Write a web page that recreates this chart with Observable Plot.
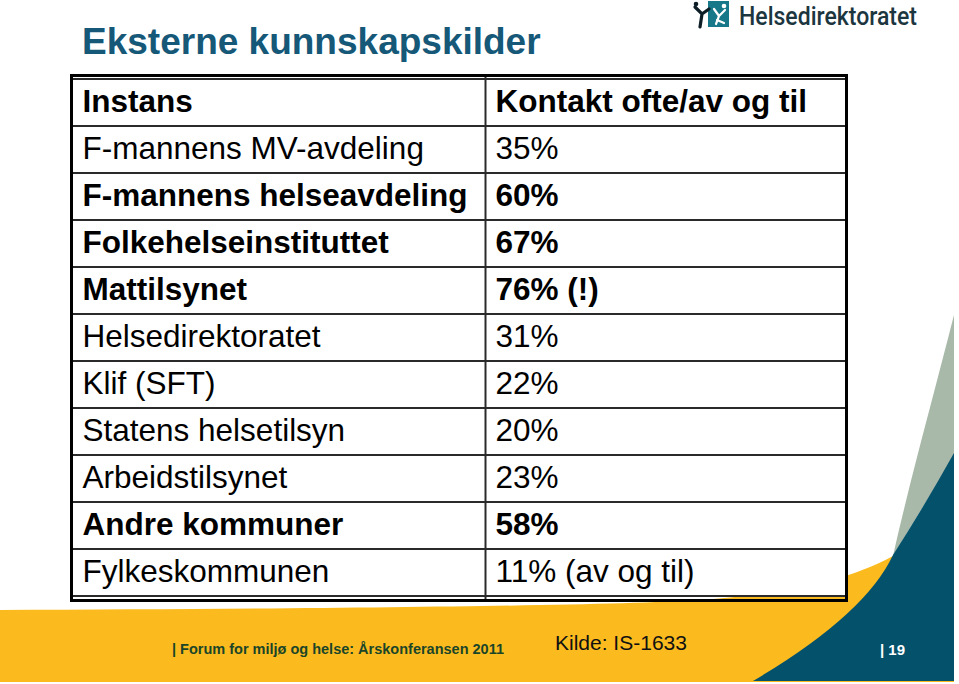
<!DOCTYPE html>
<html>
<head>
<meta charset="utf-8">
<script src="https://cdn.jsdelivr.net/npm/d3@7"></script>
<script src="https://cdn.jsdelivr.net/npm/@observablehq/plot@0.6"></script>
<style>
  html, body { margin: 0; padding: 0; background: white; }
  #slide { position: relative; width: 959px; height: 684px; overflow: hidden; font-family: "Liberation Sans", Arial, sans-serif; }
  #deco { position: absolute; left: 0; top: 0; }
  #chart { position: absolute; left: 0; top: 0; }
  #title { position: absolute; left: 82px; top: 20px; margin: 0; font-size: 37px; font-weight: bold; color: #155878; line-height: 44px; }
</style>
</head>
<body>
<div id="slide">
  <svg id="deco" width="959" height="684" xmlns="http://www.w3.org/2000/svg">
    <path d="M0,610 C300,609 600,606 700,600 C770,595 840,585 893,556 L954,556 L954,682 L0,682 Z" fill="#fbbb1e"/>
    <path d="M954,315 C935,390 910,480 893,556 L954,456 Z" fill="#a9b9a9"/>
    <path d="M954,453 Q925,505 893,555 Q865,615 753,681 L954,681 Z" fill="#03516b"/>
    <text x="172" y="654" font-family="Liberation Sans, Arial, sans-serif" font-size="14.5" font-weight="bold" fill="#1a4528">| Forum for miljø og helse: Årskonferansen 2011</text>
    <text x="555" y="650" font-family="Liberation Sans, Arial, sans-serif" font-size="21" fill="#111">Kilde: IS-1633</text>
    <text x="880" y="655" font-family="Liberation Sans, Arial, sans-serif" font-size="15" font-weight="bold" fill="white">| 19</text>
    <!-- logo -->
    <rect x="708" y="1" width="21" height="26" fill="#17788a"/>
    <path d="M714,9 L719,16 L725,10 M719,16 L716,24 M717,20 L724,23" stroke="white" stroke-width="2.2" fill="none" stroke-linecap="round"/>
    <circle cx="724" cy="6" r="2.3" fill="white"/>
    <path d="M695,7 L702,14 L709,9 M702,14 L700,27" stroke="#0d1e26" stroke-width="3.2" fill="none" stroke-linecap="round"/>
    <circle cx="696" cy="4" r="2.3" fill="#0d1e26"/>
    <text x="739" y="25" font-family="Roboto, 'DejaVu Sans', sans-serif" font-size="26" font-weight="500" fill="#1c3640" textLength="178" lengthAdjust="spacingAndGlyphs">Helsedirektoratet</text>
  </svg>
  <div id="chart"></div>
  <div id="title">Eksterne kunnskapskilder</div>
</div>
<script>
// ---- data ----
const headers = ["Instans", "Kontakt ofte/av og til"];
const instans = [
  "F-mannens MV-avdeling",
  "F-mannens helseavdeling",
  "Folkehelseinstituttet",
  "Mattilsynet",
  "Helsedirektoratet",
  "Klif (SFT)",
  "Statens helsetilsyn",
  "Arbeidstilsynet",
  "Andre kommuner",
  "Fylkeskommunen"
];
const kontakt = ["35%", "60%", "67%", "76% (!)", "31%", "22%", "20%", "23%", "58%", "11% (av og til)"];
const emphasis = [false, true, true, true, false, false, false, false, true, false];

// ---- layout constants ----
const split = 0.5342; // column divider, fraction of table width

const rows = [{key: "h", name: headers[0], value: headers[1], bold: true}]
  .concat(instans.map((n, i) => ({key: "r" + i, name: n, value: kontakt[i], bold: emphasis[i]})));

const fs = 31.5;
const chart = Plot.plot({
  width: 959,
  height: 684,
  marginLeft: 71,
  marginRight: 113,
  marginTop: 75,
  marginBottom: 84,
  x: {domain: [0, 1], axis: null},
  y: {type: "band", domain: rows.map(d => d.key), padding: 0, axis: null},
  style: {background: "transparent", fontFamily: "'Liberation Sans', Arial, sans-serif", color: "black"},
  marks: [
    Plot.barX(rows, {x1: 0, x2: 1, y: "key", fill: "white", stroke: "#2a2a2a", strokeWidth: 2}),
    Plot.ruleX([split], {stroke: "#2a2a2a", strokeWidth: 2}),
    Plot.frame({stroke: "black", strokeWidth: 3}),
    Plot.text(rows.filter(d => d.bold), {x: 0, y: "key", text: "name", textAnchor: "start", dx: 11, dy: -1, fontSize: fs, fontWeight: "bold", fill: "black"}),
    Plot.text(rows.filter(d => !d.bold), {x: 0, y: "key", text: "name", textAnchor: "start", dx: 11, dy: -1, fontSize: fs, fill: "black"}),
    Plot.text(rows.filter(d => d.bold), {x: split, y: "key", text: "value", textAnchor: "start", dx: 10, dy: -1, fontSize: fs, fontWeight: "bold", fill: "black"}),
    Plot.text(rows.filter(d => !d.bold), {x: split, y: "key", text: "value", textAnchor: "start", dx: 10, dy: -1, fontSize: fs, fill: "black"})
  ]
});
document.getElementById("chart").appendChild(chart);
</script>
</body>
</html>
